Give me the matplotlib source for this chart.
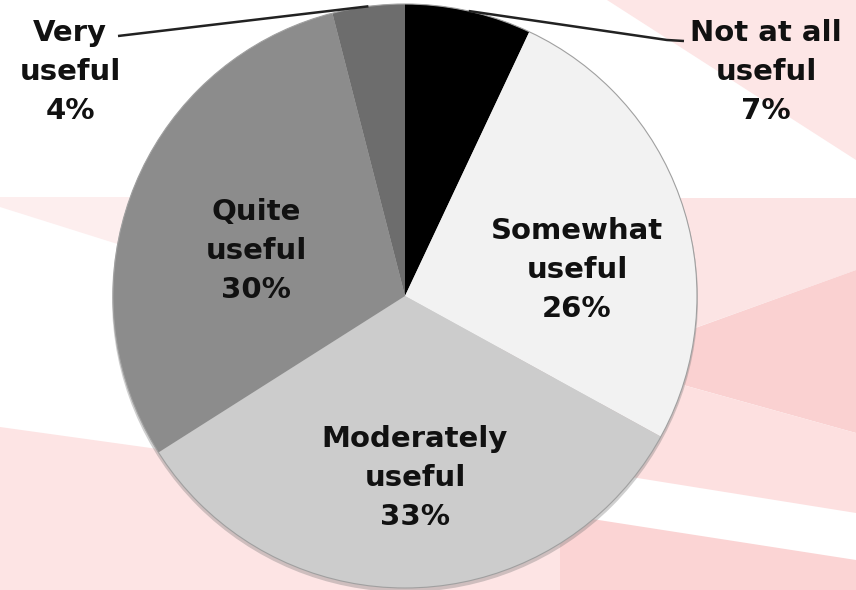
import numpy as np
import matplotlib
matplotlib.use('Agg')
import matplotlib.pyplot as plt
from matplotlib.patches import Polygon, Circle

plt.rcParams['font.family'] = ['DejaVu Sans']

# survey answers, clockwise from the top
labels = ['Not at all\nuseful', 'Somewhat\nuseful', 'Moderately\nuseful', 'Quite\nuseful', 'Very\nuseful']
values = [7, 26, 33, 30, 4]
colors = ['#000000', '#f2f2f2', '#cccccc', '#8c8c8c', '#6d6d6d']

W, H = 856, 590
cx, cy, R = 405, 296, 292

fig = plt.figure(figsize=(W / 100, H / 100), dpi=100)
ax = fig.add_axes([0, 0, 1, 1])

# pink streaks behind the pie (pixel coords, y down)
streaks = [
    ([(607, 0), (856, 0), (856, 160)], '#fde6e6'),
    ([(500, 198), (856, 198), (856, 270), (500, 398)], '#fce4e4'),
    ([(640, 348), (856, 270), (856, 433), (640, 373)], '#fad1d1'),
    ([(600, 362), (856, 433), (856, 513), (600, 472)], '#fde0e0'),
    ([(560, 514), (856, 560), (856, 590), (560, 590)], '#fbd4d4'),
    ([(0, 427), (560, 505), (560, 590), (0, 590)], '#fde4e4'),
    ([(0, 197), (200, 197), (200, 270), (0, 207)], '#fdeeee'),
]
for pts, c in streaks:
    ax.add_patch(Polygon(pts, closed=True, facecolor=c, edgecolor='none', zorder=0))

# soft drop shadow
ax.add_patch(Circle((cx, cy + 3), R + 1, facecolor='#777777', alpha=0.35,
                    edgecolor='none', zorder=1))

# y axis runs downward, so counterclock in data space reads clockwise on screen
wedges, _ = ax.pie(values, colors=colors, startangle=-90, counterclock=True,
                   radius=R, center=(cx, cy),
                   wedgeprops=dict(edgecolor='none', zorder=2))
ax.add_patch(Circle((cx, cy), R, facecolor='none', edgecolor='#a0a0a0',
                    lw=0.8, zorder=3))

ax.set_xlim(0, W)
ax.set_ylim(H, 0)
ax.set_axis_off()

txt = dict(fontsize=21, fontweight='bold', ha='center', va='center',
           linespacing=1.5, color='#111111', zorder=5)

# labels inside the big slices
inside = {1: (577, 270), 2: (415, 478), 3: (256, 251)}
for i, (x, y) in inside.items():
    ax.text(x, y, f'{labels[i]}\n{values[i]}%', **txt)

# outside labels with leader lines to the slice edge
outside = {0: ((766, 72), [(667, 40), (684, 41)]),
           4: ((70, 72), [(118, 36)])}
for i, ((x, y), tail) in outside.items():
    w = wedges[i]
    mid = np.deg2rad((w.theta1 + w.theta2) / 2)
    ex, ey = cx + R * np.cos(mid), cy + R * np.sin(mid)
    xs = [ex] + [p[0] for p in tail]
    ys = [ey] + [p[1] for p in tail]
    ax.plot(xs, ys, color='#222222', lw=1.8, zorder=4, solid_capstyle='butt')
    ax.text(x, y, f'{labels[i]}\n{values[i]}%', **txt)

fig.savefig('out.png', dpi=100)
